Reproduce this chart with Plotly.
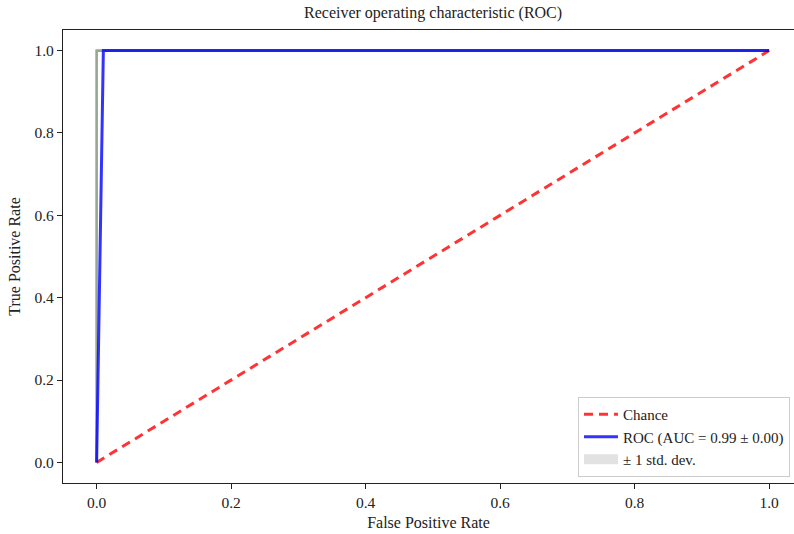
import numpy as np
import plotly.graph_objects as go

# Chance diagonal
chance_fpr = [0.0, 1.0]
chance_tpr = [0.0, 1.0]

# Per-fold ROC curve
fold_fpr = [0.0, 0.0, 1.0]
fold_tpr = [0.0, 1.0, 1.0]

# Mean ROC curve and its spread across folds
mean_fpr = [0.0, 0.01, 1.0]
mean_tpr = [0.0, 1.0, 1.0]
std_tpr = [0.0, 0.0, 0.0]
mean_auc = 0.99
std_auc = 0.00

tick_vals = [0.0, 0.2, 0.4, 0.6, 0.8, 1.0]

FONT = "Liberation Serif"
BAND = "rgba(128,128,128,0.22)"

upper = np.minimum(np.array(mean_tpr) + np.array(std_tpr), 1)
lower = np.maximum(np.array(mean_tpr) - np.array(std_tpr), 0)

fig = go.Figure()

fig.add_trace(go.Scatter(
    x=fold_fpr, y=fold_tpr, mode="lines",
    line=dict(color="rgba(95,120,90,0.65)", width=2.6),
    showlegend=False, hoverinfo="skip"))

fig.add_trace(go.Scatter(
    x=chance_fpr, y=chance_tpr, mode="lines", name="Chance",
    line=dict(color="rgba(255,0,0,0.8)", width=3, dash="9px,6px")))

fig.add_trace(go.Scatter(
    x=mean_fpr, y=mean_tpr, mode="lines",
    name=f"ROC (AUC = {mean_auc:.2f} ± {std_auc:.2f})",
    line=dict(color="rgba(0,0,255,0.8)", width=3)))

# ±1 std band around the mean curve
fig.add_trace(go.Scatter(
    x=list(mean_fpr) + list(mean_fpr)[::-1],
    y=list(upper) + list(lower)[::-1],
    fill="toself", mode="lines", line=dict(width=0, color="rgba(128,128,128,0)"),
    fillcolor=BAND, showlegend=False, hoverinfo="skip"))

# legend swatch for the band
fig.add_trace(go.Scatter(
    x=[None], y=[None], mode="lines", name="± 1 std. dev.",
    line=dict(color="rgb(226,226,226)", width=12)))

axis_common = dict(
    showgrid=False, zeroline=False, showline=True, linecolor="#222222",
    linewidth=1.3, ticks="outside", ticklen=5, tickwidth=1.1, tickcolor="#222222",
    tickvals=tick_vals, tickformat=".1f",
    tickfont=dict(family=FONT, size=15.5, color="#222222"),
)

fig.update_layout(
    width=794, height=534,
    margin=dict(l=63, r=0, t=30, b=51),
    paper_bgcolor="white", plot_bgcolor="white",
    font=dict(family=FONT, color="#222222"),
    xaxis=dict(range=[-0.05, 1.037], mirror=True,
               title=dict(text="False Positive Rate", font=dict(family=FONT, size=16), standoff=7),
               **axis_common),
    yaxis=dict(range=[-0.05, 1.05], mirror=False,
               title=dict(text="True Positive Rate", font=dict(family=FONT, size=16), standoff=9),
               **axis_common),
    legend=dict(
        x=0.9945, y=0.013, xanchor="right", yanchor="bottom",
        bgcolor="rgba(255,255,255,0.9)", bordercolor="#cccccc", borderwidth=1,
        font=dict(family=FONT, size=15, color="#222222"),
        tracegroupgap=0, itemwidth=34,
    ),
    annotations=[dict(
        text="Receiver operating characteristic (ROC)", x=0.5, xref="x",
        y=1.0, yref="paper", yanchor="middle", yshift=17, showarrow=False,
        font=dict(family=FONT, size=16, color="#222222"))],
)

fig.write_html("out.html")
